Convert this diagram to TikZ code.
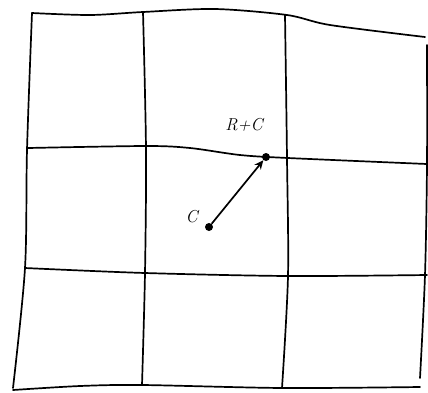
\documentclass[tikz,border=0pt]{standalone}
\usepackage{tikz}
\usetikzlibrary{arrows.meta, positioning}

\begin{document}
\begin{tikzpicture}[x=1pt, y=-1pt, >={Stealth[length=9pt, width=8pt]},
      gridline/.style={line width=1.7pt, line cap=round, line join=round},
      pt/.style={circle, fill, inner sep=0pt, minimum size=8pt},
      lbl/.style={font=\LARGE\itshape, inner sep=1pt}]
    \useasboundingbox (0,0) rectangle (428,392);
    % hand-drawn grid
    \draw[gridline] plot[smooth] coordinates {(32,13) (90,15) (143,12) (215,9) (287,15) (330,25) (425,37)};
    \draw[gridline] plot[smooth] coordinates {(28,148) (146,146) (190,148) (240,155) (288,158) (427,164)};
    \draw[gridline] plot[smooth] coordinates {(25,268) (145,273) (288,276) (427,275)};
    \draw[gridline] plot[smooth] coordinates {(13,390) (80,386) (142,385) (283,388) (420,387)};
    \draw[gridline] plot[smooth] coordinates {(32,13) (27,150) (25,268) (13,388)};
    \draw[gridline] plot[smooth] coordinates {(143,12) (146,150) (145,273) (142,385)};
    \draw[gridline] plot[smooth] coordinates {(285,15) (287,158) (288,276) (282,388)};
    \draw[gridline] plot[smooth] coordinates {(427,45) (427,165) (425,275) (420,378)};
    % the two points
    \node[pt] (C) at (209,227) {};
    \node[pt] (RC) at (266,157) {};
    \node[lbl, left=6pt of C, yshift=10pt] (Clbl) {C};
    \node[lbl, above=20pt of RC, xshift=-22pt] (RClbl) {R+C};
    \draw[->, line width=1.7pt] (C) -- (RC);
\end{tikzpicture}
\end{document}
